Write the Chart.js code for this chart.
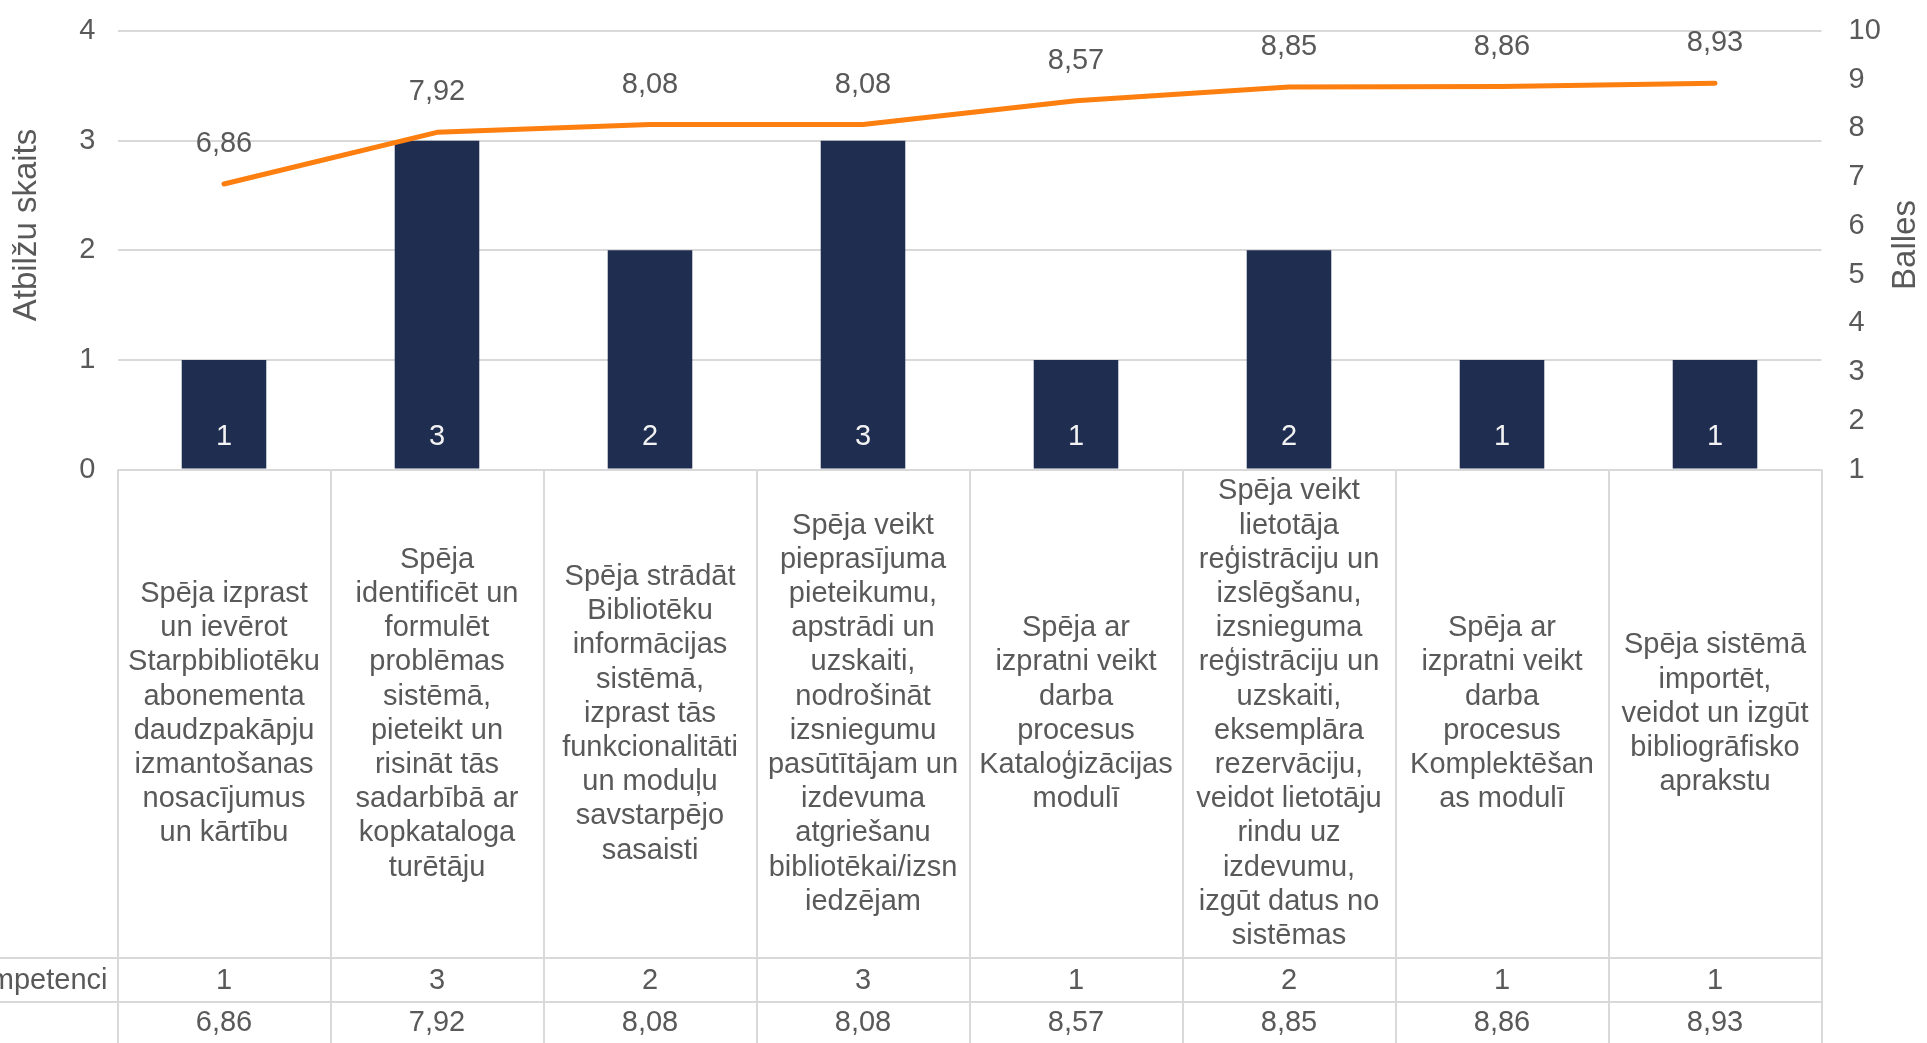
<!DOCTYPE html>
<html>
<head>
<meta charset="utf-8">
<script src="https://cdn.jsdelivr.net/npm/chart.js@4/dist/chart.umd.min.js"></script>
<style>
  html, body { margin: 0; padding: 0; background: #ffffff; overflow: hidden; }
  canvas { display: block; }
</style>
</head>
<body>
<canvas id="c" width="1927" height="1043"></canvas>
<script>
// ---- data ----
const categories = [
  ["Spēja izprast","un ievērot","Starpbibliotēku","abonementa","daudzpakāpju","izmantošanas","nosacījumus","un kārtību"],
  ["Spēja","identificēt un","formulēt","problēmas","sistēmā,","pieteikt un","risināt tās","sadarbībā ar","kopkataloga","turētāju"],
  ["Spēja strādāt","Bibliotēku","informācijas","sistēmā,","izprast tās","funkcionalitāti","un moduļu","savstarpējo","sasaisti"],
  ["Spēja veikt","pieprasījuma","pieteikumu,","apstrādi un","uzskaiti,","nodrošināt","izsniegumu","pasūtītājam un","izdevuma","atgriešanu","bibliotēkai/izsn","iedzējam"],
  ["Spēja ar","izpratni veikt","darba","procesus","Kataloģizācijas","modulī"],
  ["Spēja veikt","lietotāja","reģistrāciju un","izslēgšanu,","izsnieguma","reģistrāciju un","uzskaiti,","eksemplāra","rezervāciju,","veidot lietotāju","rindu uz","izdevumu,","izgūt datus no","sistēmas"],
  ["Spēja ar","izpratni veikt","darba","procesus","Komplektēšan","as modulī"],
  ["Spēja sistēmā","importēt,","veidot un izgūt","bibliogrāfisko","aprakstu"]
];
const answerCounts = [1, 3, 2, 3, 1, 2, 1, 1];
const scores = [6.86, 7.92, 8.08, 8.08, 8.57, 8.85, 8.86, 8.93];
const countSeriesName = "Atbilžu skaits par kompetenci";
const scoreSeriesName = "";
const leftAxisTitle = "Atbilžu skaits";
const rightAxisTitle = "Balles";
const leftTicks = { min: 0, max: 4, step: 1 };
const rightTicks = { min: 1, max: 10, step: 1 };

// ---- style ----
const FONT = "'Liberation Sans', Arial, sans-serif";
const FS = 29;
const TITLE_FS = 33;
const TEXT = '#595959';
const GRID = '#d9d9d9';
const BAR = '#1f2d50';
const LINE = '#fd7f10';

const fmt = v => v.toFixed(2).replace('.', ',');

const tablePlugin = {
  id: 'tablePlugin',
  afterDraw(chart) {
    const ctx = chart.ctx;
    const ca = chart.chartArea;
    const xs = chart.scales.x;
    const H = chart.height;
    const n = categories.length;
    const row1Bottom = 958;
    const row2Bottom = 1002;
    const lineH = 34.2;
    ctx.save();
    // table borders
    ctx.strokeStyle = GRID;
    ctx.lineWidth = 2;
    for (let i = 0; i <= n; i++) {
      let x;
      if (i === 0) x = ca.left;
      else if (i === n) x = ca.right;
      else x = (xs.getPixelForValue(i - 1) + xs.getPixelForValue(i)) / 2;
      ctx.beginPath();
      ctx.moveTo(Math.round(x), ca.bottom);
      ctx.lineTo(Math.round(x), H);
      ctx.stroke();
    }
    [row1Bottom, row2Bottom].forEach(y => {
      ctx.beginPath();
      ctx.moveTo(0, y);
      ctx.lineTo(ca.right, y);
      ctx.stroke();
    });
    // category texts
    ctx.fillStyle = TEXT;
    ctx.font = FS + 'px ' + FONT;
    ctx.textAlign = 'center';
    ctx.textBaseline = 'middle';
    const cellMid = (ca.bottom + row1Bottom) / 2;
    categories.forEach((lines, i) => {
      const cx = xs.getPixelForValue(i);
      const y0 = cellMid - (lines.length - 1) * lineH / 2;
      lines.forEach((t, k) => ctx.fillText(t, cx, y0 + k * lineH));
      ctx.fillText(String(answerCounts[i]), cx, (row1Bottom + row2Bottom) / 2 + 1);
      ctx.fillText(fmt(scores[i]), cx, row2Bottom + 21);
    });
    // row headers (clipped on the left like the original)
    ctx.textAlign = 'right';
    ctx.fillText(countSeriesName, ca.left - 10, (row1Bottom + row2Bottom) / 2 + 1);
    ctx.fillText(scoreSeriesName, ca.left - 10, row2Bottom + 21);

    // axis titles
    ctx.textAlign = 'center';
    ctx.font = TITLE_FS + 'px ' + FONT;
    ctx.save();
    ctx.translate(27, 225);
    ctx.rotate(-Math.PI / 2);
    ctx.fillText(leftAxisTitle, 0, 0);
    ctx.restore();
    ctx.save();
    ctx.translate(1906, 245);
    ctx.rotate(-Math.PI / 2);
    ctx.fillText(rightAxisTitle, 0, 0);
    ctx.restore();

    ctx.font = FS + 'px ' + FONT;
    // bar value labels
    const barMeta = chart.getDatasetMeta(0);
    ctx.fillStyle = '#f2f2f2';
    barMeta.data.forEach((el, i) => {
      ctx.fillText(String(answerCounts[i]), el.x, el.base - 32);
    });
    // line value labels
    const lineMeta = chart.getDatasetMeta(1);
    ctx.fillStyle = TEXT;
    lineMeta.data.forEach((el, i) => {
      ctx.fillText(fmt(scores[i]), el.x, el.y - 40);
    });
    ctx.restore();
  }
};

new Chart(document.getElementById('c'), {
  type: 'bar',
  data: {
    labels: categories.map(c => c.join(' ')),
    datasets: [
      {
        type: 'bar',
        label: countSeriesName,
        data: answerCounts,
        backgroundColor: BAR,
        yAxisID: 'y',
        order: 2,
        categoryPercentage: 1,
        barPercentage: 0.397
      },
      {
        type: 'line',
        label: scoreSeriesName,
        data: scores,
        borderColor: LINE,
        borderWidth: 5,
        pointRadius: 0,
        tension: 0,
        borderCapStyle: 'round',
        borderJoinStyle: 'round',
        yAxisID: 'y2',
        order: 1
      }
    ]
  },
  options: {
    responsive: false,
    animation: false,
    devicePixelRatio: 1,
    layout: { padding: { top: 31, bottom: 573.5, left: 0, right: 0 } },
    plugins: { legend: { display: false }, tooltip: { enabled: false }, title: { display: false } },
    scales: {
      x: { display: false, offset: true },
      y: {
        position: 'left',
        min: leftTicks.min, max: leftTicks.max,
        ticks: { stepSize: leftTicks.step, color: TEXT, font: { family: FONT, size: FS }, padding: 22 },
        grid: { color: GRID, lineWidth: 2, drawTicks: false },
        border: { display: false },
        afterFit(s) { s.width = 117.5; s.paddingTop = 0; s.paddingBottom = 0; }
      },
      y2: {
        position: 'right',
        min: rightTicks.min, max: rightTicks.max,
        ticks: { stepSize: rightTicks.step, color: TEXT, font: { family: FONT, size: FS }, padding: 27 },
        grid: { drawOnChartArea: false, drawTicks: false },
        border: { display: false },
        afterFit(s) { s.width = 1927 - 1821.5; s.paddingTop = 0; s.paddingBottom = 0; }
      }
    }
  },
  plugins: [tablePlugin]
});
</script>
</body>
</html>
